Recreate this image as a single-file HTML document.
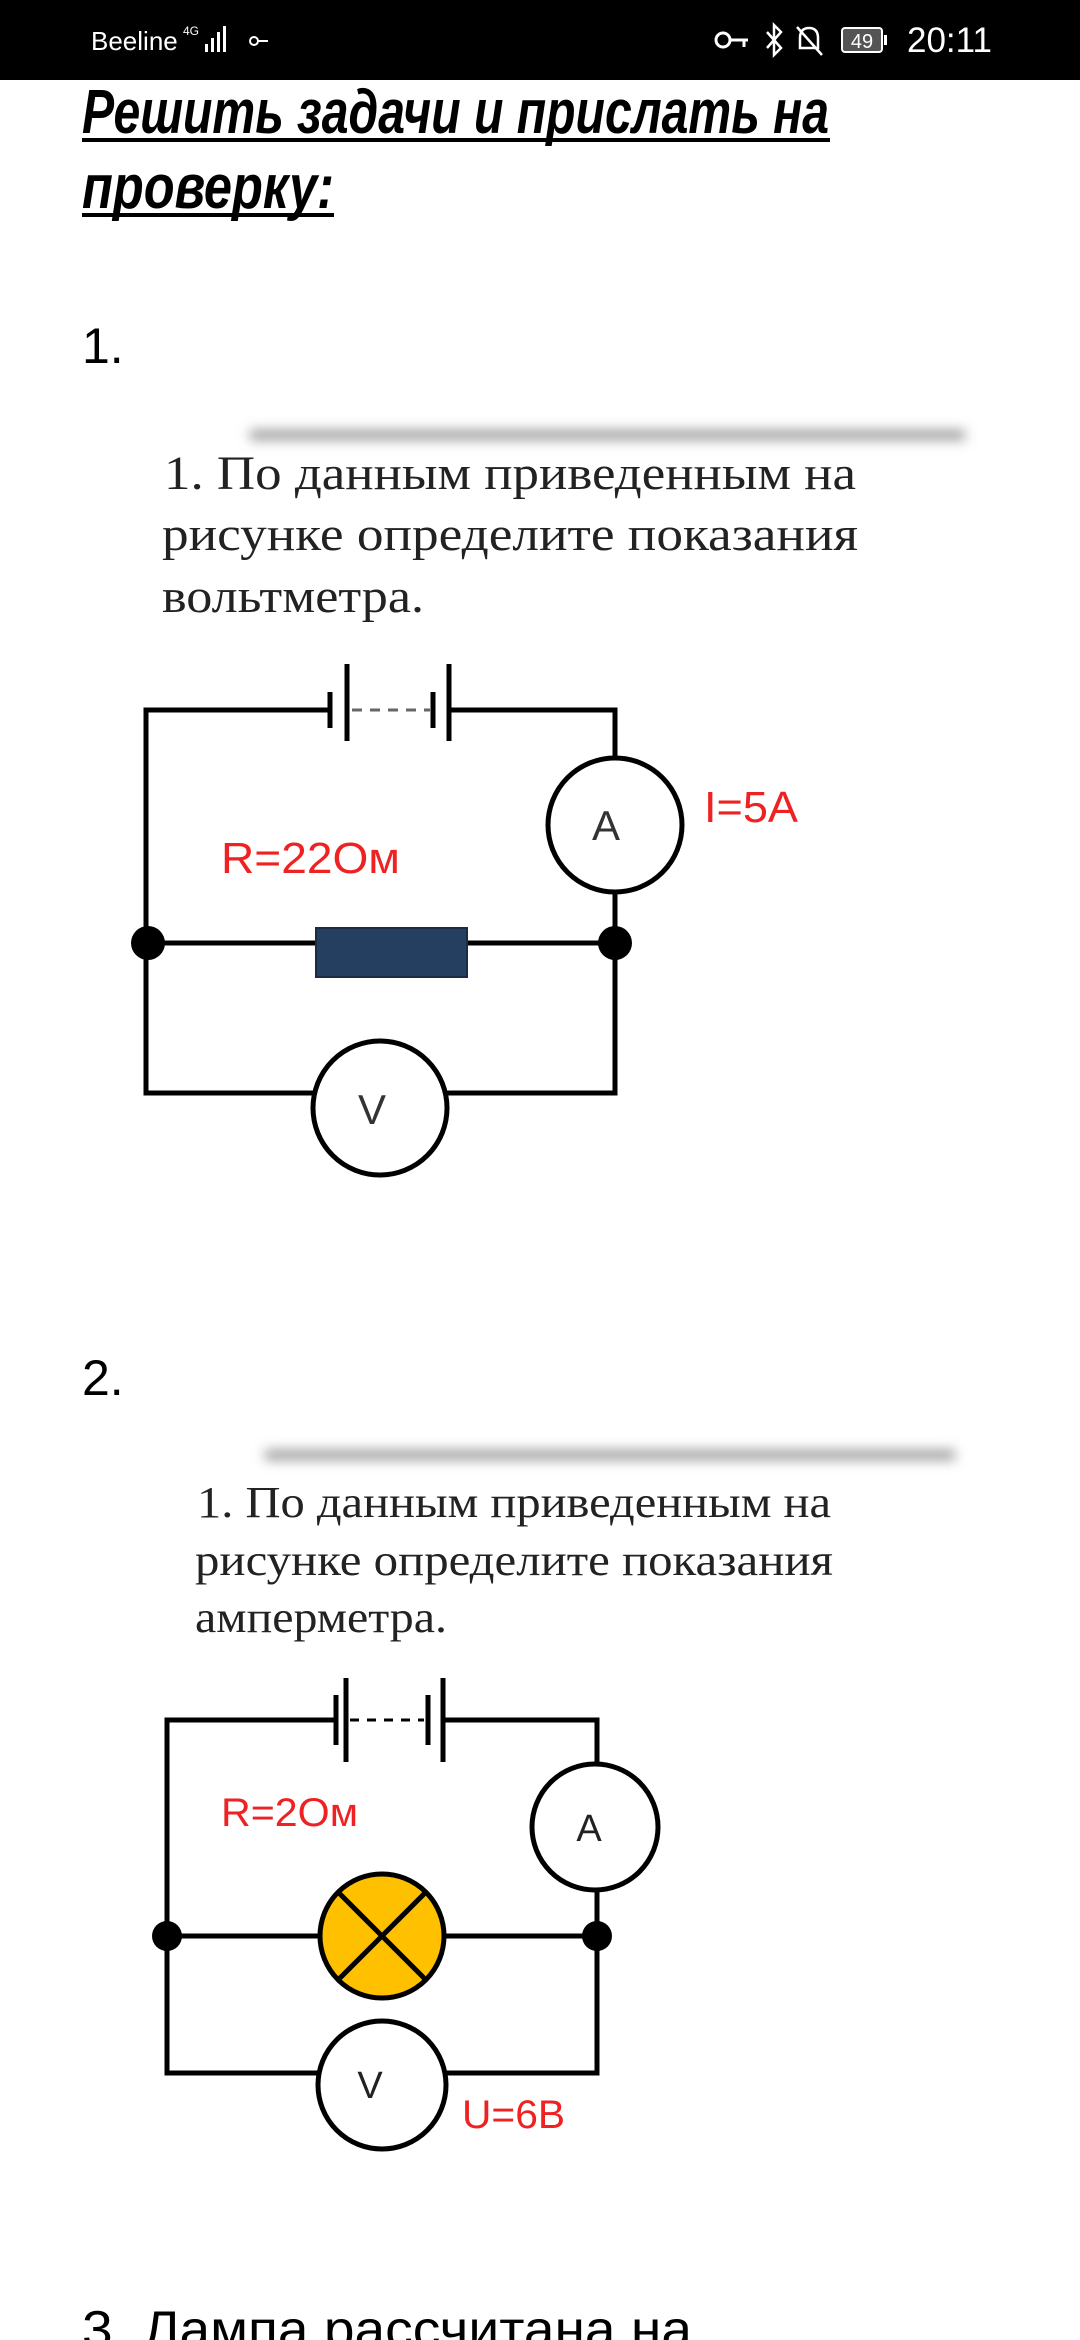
<!DOCTYPE html>
<html><head><meta charset="utf-8"><style>
html,body{margin:0;padding:0;background:#fff;}
svg{display:block;}
</style></head><body>
<svg width="1080" height="2340" viewBox="0 0 1080 2340" xmlns="http://www.w3.org/2000/svg">
<defs>
<filter id="blur" x="-10%" y="-200%" width="120%" height="500%"><feGaussianBlur stdDeviation="6"/></filter>
</defs>
<rect width="1080" height="2340" fill="#fff"/>
<!-- status bar -->
<rect x="0" y="0" width="1080" height="80" fill="#000"/>
<text x="91" y="50" font-family="Liberation Sans, sans-serif" font-size="26" fill="#fff">Beeline</text>
<text x="183" y="35" font-family="Liberation Sans, sans-serif" font-size="12" fill="#fff">4G</text>
<rect x="205" y="44" width="3" height="8" fill="#fff"/><rect x="211" y="38" width="3" height="14" fill="#fff"/><rect x="217" y="32" width="3" height="20" fill="#fff"/><rect x="223" y="26" width="3" height="26" fill="#fff"/>
<circle cx="254" cy="41" r="4" fill="none" stroke="#fff" stroke-width="2"/><line x1="258" y1="41" x2="268" y2="41" stroke="#fff" stroke-width="2"/>
<circle cx="723" cy="40" r="7" fill="none" stroke="#fff" stroke-width="3"/><line x1="730" y1="40" x2="748" y2="40" stroke="#fff" stroke-width="3"/><line x1="744" y1="40" x2="744" y2="47" stroke="#fff" stroke-width="3"/>
<path d="M767 32 L781 48 L774 55 L774 25 L781 32 L767 48" fill="none" stroke="#fff" stroke-width="2.5"/>
<path d="M800 48 L800 38 Q800 28 809 28 Q818 28 818 38 L818 48 Z M797 27 L822 55" fill="none" stroke="#fff" stroke-width="2.5"/>
<rect x="842" y="28" width="40" height="24" rx="3" fill="#555" stroke="#fff" stroke-width="2"/>
<rect x="884" y="35" width="3" height="10" fill="#fff"/>
<text x="862" y="48" text-anchor="middle" font-family="Liberation Sans, sans-serif" font-size="20" fill="#fff">49</text>
<text x="907" y="52" font-family="Liberation Sans, sans-serif" font-size="35" fill="#fff">20:11</text>

<!-- title -->
<g font-family="Liberation Sans Narrow, Liberation Sans, sans-serif" font-weight="bold" font-style="italic" fill="#000">
<text x="82" y="133" font-size="62" textLength="747" lengthAdjust="spacingAndGlyphs">Решить задачи и прислать на</text>
<text x="82" y="208" font-size="62" textLength="252" lengthAdjust="spacingAndGlyphs">проверку:</text>
</g>
<rect x="82" y="138" width="748" height="4" fill="#000"/>
<rect x="82" y="213" width="252" height="4" fill="#000"/>

<text x="82" y="363" font-family="Liberation Sans, sans-serif" font-size="50" fill="#000">1.</text>

<!-- problem 1 -->
<rect x="250" y="430" width="715" height="10" fill="#999" filter="url(#blur)"/>
<g font-family="Liberation Serif, serif" font-size="48" fill="#222">
<text x="164" y="489" textLength="692" lengthAdjust="spacingAndGlyphs">1. По данным приведенным на</text>
<text x="162" y="550" textLength="696" lengthAdjust="spacingAndGlyphs">рисунке определите показания</text>
<text x="162" y="612" textLength="262" lengthAdjust="spacingAndGlyphs">вольтметра.</text>
</g>
<g stroke="#000" stroke-width="5" fill="none">
<polyline points="330,710 146,710 146,1093 313,1093"/>
<polyline points="449,710 615,710 615,758"/>
<polyline points="615,892 615,1093 447,1093"/>
<line x1="146" y1="943" x2="316" y2="943"/>
<line x1="467" y1="943" x2="615" y2="943"/>
<line x1="330" y1="692" x2="330" y2="728"/>
<line x1="347" y1="664" x2="347" y2="741"/>
<line x1="433" y1="692" x2="433" y2="728"/>
<line x1="449" y1="664" x2="449" y2="741"/>
<line x1="352" y1="710" x2="430" y2="710" stroke="#666" stroke-width="3" stroke-dasharray="10,8"/>
<ellipse cx="615" cy="825" rx="67" ry="67" fill="#fff"/>
<ellipse cx="380" cy="1108" rx="67" ry="67" fill="#fff"/>
</g>
<rect x="316" y="928" width="151" height="49" fill="#243f60" stroke="#1a2c44" stroke-width="2"/>
<circle cx="148" cy="943" r="17" fill="#000"/>
<circle cx="615" cy="943" r="17" fill="#000"/>
<g font-family="Liberation Sans, sans-serif" font-size="42" fill="#333" text-anchor="middle">
<text x="606" y="840">A</text>
<text x="372" y="1124">V</text>
</g>
<g font-family="Liberation Sans, sans-serif" font-size="44" fill="#ee2222">
<text x="221" y="873" textLength="179" lengthAdjust="spacingAndGlyphs">R=22Ом</text>
<text x="704" y="822" textLength="94" lengthAdjust="spacingAndGlyphs">I=5A</text>
</g>

<text x="82" y="1395" font-family="Liberation Sans, sans-serif" font-size="50" fill="#000">2.</text>

<!-- problem 2 -->
<rect x="265" y="1450" width="690" height="10" fill="#999" filter="url(#blur)"/>
<g font-family="Liberation Serif, serif" font-size="44" fill="#222">
<text x="197" y="1517" textLength="634" lengthAdjust="spacingAndGlyphs">1. По данным приведенным на</text>
<text x="195" y="1575" textLength="638" lengthAdjust="spacingAndGlyphs">рисунке определите показания</text>
<text x="195" y="1632" textLength="252" lengthAdjust="spacingAndGlyphs">амперметра.</text>
</g>
<g stroke="#000" stroke-width="5" fill="none">
<polyline points="336,1720 167,1720 167,2073 318,2073"/>
<polyline points="443,1720 597,1720 597,1764"/>
<polyline points="597,1890 597,2073 446,2073"/>
<line x1="167" y1="1936" x2="320" y2="1936"/>
<line x1="444" y1="1936" x2="597" y2="1936"/>
<line x1="336" y1="1695" x2="336" y2="1745"/>
<line x1="346" y1="1678" x2="346" y2="1762"/>
<line x1="428" y1="1695" x2="428" y2="1745"/>
<line x1="443" y1="1678" x2="443" y2="1762"/>
<line x1="350" y1="1720" x2="424" y2="1720" stroke-width="3" stroke-dasharray="9,8"/>
<ellipse cx="595" cy="1827" rx="63" ry="63" fill="#fff"/>
<ellipse cx="382" cy="1936" rx="62" ry="62" fill="#ffc000"/>
<line x1="338" y1="1892" x2="426" y2="1980"/>
<line x1="426" y1="1892" x2="338" y2="1980"/>
<ellipse cx="382" cy="2085" rx="64" ry="64" fill="#fff"/>
</g>
<circle cx="167" cy="1936" r="15" fill="#000"/>
<circle cx="597" cy="1936" r="15" fill="#000"/>
<g font-family="Liberation Sans, sans-serif" font-size="38" fill="#222" text-anchor="middle">
<text x="589" y="1841">A</text>
<text x="370" y="2098">V</text>
</g>
<g font-family="Liberation Sans, sans-serif" font-size="40" fill="#ee2222">
<text x="221" y="1826" textLength="137" lengthAdjust="spacingAndGlyphs">R=2Ом</text>
<text x="462" y="2128" textLength="103" lengthAdjust="spacingAndGlyphs">U=6B</text>
</g>

<text x="82" y="2347" font-family="Liberation Sans, sans-serif" font-size="52" fill="#000" textLength="610" lengthAdjust="spacingAndGlyphs">3. Лампа рассчитана на</text>
</svg>
</body></html>
